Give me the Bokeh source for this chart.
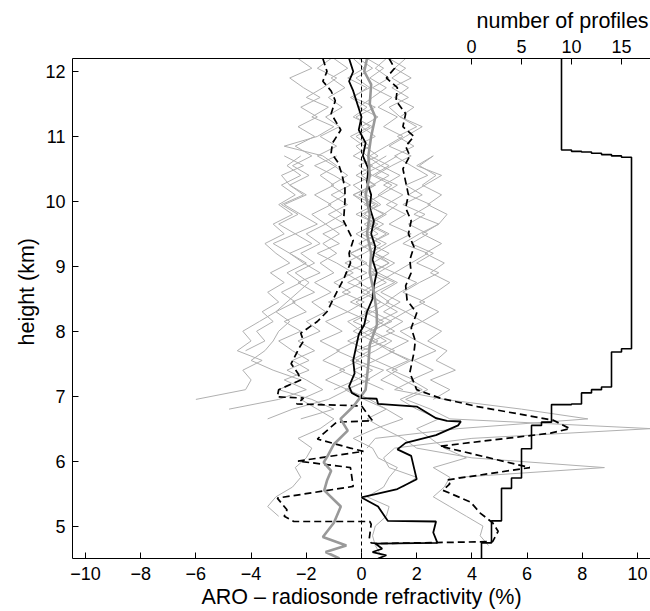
import numpy as np
from bokeh.plotting import figure
from bokeh.models import Range1d, LinearAxis, FixedTicker, Span, Title
from bokeh.embed import file_html
from bokeh.resources import INLINE

# ---------------- data ----------------
# sampling heights (km) of the individual profiles
grid_heights = [4.55, 4.70, 4.85, 5.00, 5.15, 5.30, 5.45, 5.60, 5.75, 5.90,
                6.05, 6.20, 6.35, 6.50, 6.65, 6.80, 6.95, 7.10, 7.25, 7.40,
                7.55, 7.70, 7.85, 8.00, 8.15, 8.30, 8.45, 8.60, 8.75, 8.90,
                9.05, 9.20, 9.35, 9.50, 9.65, 9.80, 9.95, 10.10, 10.25, 10.40,
                10.55, 10.70, 10.85, 11.00, 11.15, 11.30, 11.45, 11.60, 11.75, 11.90,
                12.05, 12.20]

# individual ARO - radiosonde differences (%), each starting at grid index *_start
prof_a_start = 0
prof_a = [0.7, 0.5, 0.4, 0.5, 0.9, 1.0, 0.2, 0.8, 1.0, 1.3, 0.6, 0.4, -0.3, 0.5, 1.5, 0.9, 0.3, -0.5,
          0.2, 0.8, -0.2, 0.5, 1.1, 0.4, 1.0, 1.6, 0.9, 1.4, 2.0, 1.2, 1.8, 2.4, 1.5, 2.1, 2.8, 1.9,
          2.5, 1.7, 2.3, 2.9, 2.0, 2.6]
prof_b_start = 1
prof_b = [4.6, 4.3, 4.4, 3.8, 3.2, 2.6, 3.0, 3.2, 2.6, 3.8, 3.0, 2.5, 2.0, 2.8, 2.0, 1.4, 2.2, 1.5,
          0.9, 1.7, 1.0, 0.4, 1.2, 0.6, 1.3, 0.7, 0.2, 0.9, 0.3, 1.0, 0.5, -0.1, 0.6, 0.1, 0.8, 0.2,
          -0.3, 0.5, 0.0, 0.7, 0.2, -0.2, 0.5, 0.0, 0.6, -0.1, 0.4, 0.9, 0.3, 0.8, 0.2]
prof_c_start = 4
prof_c = [-3.0, -3.4, -3.1, -2.5, -2.2, -2.4, -2.0, -1.8, -2.3, -1.5, -1.0, -1.6, -2.2, -1.4, -2.0,
          -2.7, -1.9, -2.5, -3.0, -2.2, -2.8, -2.0, -2.5, -1.7, -2.3, -1.5, -2.1, -2.6, -1.8, -2.4,
          -1.6, -2.2, -2.8, -2.0, -2.6, -2.9, -2.1, -2.8]
prof_d_start = 7
prof_d = [1.5, 2.0, 1.0, 0.8, 1.2, 4.0, 10.5, 3.2, 2.5, 1.6, 2.4, 1.8, 2.6, 1.9, 2.7, 2.0, 1.4, 2.2,
          1.6, 2.3, 1.5, 2.1, 2.8, 2.0, 2.6, 1.8, 2.4, 1.7, 2.3, 1.5, 2.2, 1.6, 2.4, 1.8, 1.2, 1.9,
          1.3, 2.0, 1.4, 1.0, 1.7, 1.1, 1.8, 1.2, 1.6]
prof_e_start = 8
prof_e = [3.5, 8.8, 4.0, 2.0, 1.5, 0.8, 0.2, 0.9, 0.1, -0.6, 0.3, -0.3, 0.5, -0.2, 0.6, 0.0, -0.5,
          0.3, -0.2, 0.5, -0.1, 0.6, 0.1, -0.4, 0.4, -0.2, 0.5, 0.0, 0.7, 0.2, -0.3, 0.4, -0.1, 0.6,
          0.1, -0.4, 0.3, -0.2, 0.5, -0.3, 0.2, -0.5, 0.1, -0.3]
prof_f_start = 11
prof_f = [0.2, 0.5, 3.5, 8.2, 5.8, 3.0, 1.2, 1.9, 1.1, 1.8, 1.0, 1.7, 0.9, 1.5, 0.8, 1.4, 0.7, 1.3,
          0.6, 1.2, 0.5, 1.1, 1.8, 1.0, 1.6, 0.9, 1.5, 0.8, 1.4, 0.7, 1.3]
prof_g_start = 14
prof_g = [-2.2, -1.0, -1.8, -3.0, -2.2, -3.2, -4.0, -3.5, -3.2, -3.0, -2.6, -3.1, -2.4, -2.9, -2.2,
          -2.7, -2.0, -2.6, -3.2, -2.4, -3.0, -2.3, -2.9, -2.1, -2.6, -1.9, -2.5, -1.8, -2.4, -1.7,
          -2.3, -1.6, -2.2, -1.5, -2.1, -2.6, -1.8, -2.3]
prof_h_start = 14
prof_h = [-3.4, -2.5, -1.2, -0.5, -1.3, -0.6, -1.4, -0.8, -1.5, -0.7, -1.3, -0.5, -1.2, -0.4, -1.0,
          -0.3, -0.9, -1.6, -0.8, -1.4, -0.6, -1.2, -0.5, -1.1, -0.4, -1.0, -1.7, -0.9]
prof_i_start = 15
prof_i = [-4.8, -3.0, -2.0, -2.8, -1.9, -2.5, -1.7, -2.3, -1.5, -2.0, -1.3, -1.8, -1.1, -1.7, -1.0,
          -1.5, -0.9, -1.4, -0.8, -1.3, -0.7, -1.2, -0.6, -1.1, -0.5, -1.0, -1.6, -0.9, -1.5, -0.8,
          -1.3, -0.7, -1.2, -0.6, -1.1, -0.5, -1.0]
prof_j_start = 16
prof_j = [-6.0, -4.2, -4.0, -4.3, -3.6, -4.5, -4.0, -4.3, -3.7, -3.1, -2.7, -2.3, -1.9, -2.4, -1.7,
          -2.2, -1.5, -2.0, -1.3, -1.8, -1.1, -1.7, -1.0, -1.5, -0.9, -1.4, -2.8, -1.6, -1.0, -1.8,
          -1.2, -2.0, -1.4, -0.9, -1.6, -1.1]
prof_k_start = 16
prof_k = [2.6, 3.2, 2.5, 3.4, 2.7, 3.1, 2.4, 2.9, 2.2, 2.8, 2.1, 2.7, 3.2, 2.5, 3.0, 2.3, 2.9, 2.2,
          2.8, 3.1, 2.4, 2.9, 2.2, 2.7, 2.1, 2.6]
prof_l_start = 17
prof_l = [-1.0, -0.2, 0.4, -0.4, 0.3, -0.5, 0.2, 0.8, 0.1, 0.7, 0.0, 0.6, 1.2, 0.4, 1.0, 0.3, 0.9,
          0.2, 0.8, 1.3, 0.6, 1.1, 0.4, 1.0, 0.3, 0.9, 1.5, 0.8, 1.3, 0.6, 1.1, 0.4, 1.0, 0.5, 0.9]
prof_m_start = 17
prof_m = [0.8, 0.0, -0.8, -0.1, -0.9, -0.2, 0.5, -0.3, 0.4, -0.4, 0.3, -0.5, 0.2, -0.6, 0.1, 0.7,
          0.0, 0.6, -0.2, 0.5, -0.3, 0.4, 1.0, 0.3, 0.9]
prof_n_start = 17
prof_n = [1.5, 0.7, 1.3, 0.5, 1.2, 0.4, -0.3, 0.3, -0.5, 0.1, -0.7, 0.0, -0.6, 0.2, -0.4, 0.3, 1.0,
          0.3, 0.9, 0.1, 0.7, 1.3, 0.5, 1.1, 1.8, 1.0, 1.6, 2.2, 1.4, 1.9, 1.2, 1.7, 1.1, 1.6, 1.0]
prof_o_start = 21
prof_o = [-4.2, -3.5, -3.8, -3.2, -3.6, -3.0, -3.4, -2.8, -3.3, -2.6, -3.1, -3.5, -2.8, -3.2, -2.5,
          -3.0, -2.4, -2.9, -2.2, -2.7, -2.2]
prof_p_start = 21
prof_p = [0.0, 0.9, 0.3, 1.1, 0.4, 1.0, 0.5, 1.2, 0.4, 1.0, 0.3, 0.9, 0.2, 0.8, 0.1, 0.6, -0.1, 0.5,
          -0.2, 0.4, -0.3, 0.3, -0.2, 0.4, -0.3, 0.2, -0.4, 0.3, -0.2, 0.4, -0.1]

profiles = [(prof_a_start, prof_a), (prof_b_start, prof_b), (prof_c_start, prof_c),
            (prof_d_start, prof_d), (prof_e_start, prof_e), (prof_f_start, prof_f),
            (prof_g_start, prof_g), (prof_h_start, prof_h), (prof_i_start, prof_i),
            (prof_j_start, prof_j), (prof_k_start, prof_k), (prof_l_start, prof_l),
            (prof_m_start, prof_m), (prof_n_start, prof_n), (prof_o_start, prof_o),
            (prof_p_start, prof_p)]

# mean difference (solid black)
mean_x = [-0.45, -0.3, -0.45, -0.3, -0.15, 0.0, -0.1, 0.15, 0.05, 0.25, 0.2, 0.35, 0.3, 0.45, 0.35,
          0.5, 0.4, 0.55, 0.45, 0.4, 0.2, 0.1, -0.1, -0.2, -0.3, -0.25, -0.45, -0.35, 0.0, 0.55, 0.6,
          2.0, 2.7, 3.1, 3.6, 3.5, 2.7, 1.6, 1.3, 1.8, 1.9, 2.0, 1.3, 0.0, 0.6, 0.95, 2.7, 2.6, 2.75,
          0.5, 0.75, 0.4, 0.9, 0.6]
mean_h = [12.2, 12.0, 11.85, 11.7, 11.5, 11.3, 11.1, 10.9, 10.7, 10.5, 10.3, 10.1, 9.9, 9.7, 9.5,
          9.3, 9.1, 8.9, 8.7, 8.5, 8.3, 8.1, 7.95, 7.75, 7.55, 7.35, 7.15, 7.05, 6.97, 6.96, 6.88,
          6.84, 6.66, 6.62, 6.61, 6.55, 6.40, 6.28, 6.18, 6.08, 5.9, 5.72, 5.57, 5.44, 5.30, 5.08,
          5.07, 4.9, 4.74, 4.73, 4.65, 4.6, 4.55, 4.5]

# mean - std (dashed)
lo_x = [-1.4, -1.25, -1.4, -1.1, -0.95, -1.1, -0.75, -1.05, -1.1, -0.85, -0.7, -0.6, -0.6, -0.65,
        -0.3, -0.45, -0.4, -0.65, -0.9, -1.25, -1.6, -2.2, -2.1, -2.25, -2.55, -2.3, -2.2, -3.0,
        -3.05, -2.1, -2.35, 0.0, 0.4, -0.9, -1.6, -0.4, 0.07, -2.3, -0.4, -0.3, -3.05, -2.7, -2.8,
        -2.45, 0.3, 0.35, 0.28, 0.35, 0.6]
lo_h = [12.2, 12.0, 11.85, 11.7, 11.55, 11.35, 11.1, 10.9, 10.75, 10.6, 10.4, 10.2, 10.0, 9.7,
        9.4, 9.2, 9.05, 8.8, 8.6, 8.3, 8.15, 7.97, 7.85, 7.75, 7.5, 7.35, 7.25, 7.1, 6.99, 6.97,
        6.88, 6.85, 6.62, 6.60, 6.34, 6.2, 6.15, 6.0, 5.9, 5.61, 5.43, 5.25, 5.15, 5.07, 5.07, 5.03,
        4.8, 4.74, 4.73]

# mean + std (dashed)
hi_x = [1.0, 1.2, 0.9, 1.3, 1.25, 1.6, 1.5, 1.9, 1.6, 1.75, 1.5, 1.6, 1.7, 1.6, 1.8, 1.7, 1.9, 1.75,
        1.8, 1.6, 1.65, 2.0, 1.8, 1.95, 1.9, 1.75, 2.0, 2.85, 4.2, 6.95, 7.55, 6.85, 2.85, 6.1, 3.1,
        3.2, 2.95, 3.95, 4.3, 4.75, 4.95, 4.75, 0.6]
hi_h = [12.2, 12.05, 11.9, 11.75, 11.55, 11.35, 11.15, 11.0, 10.85, 10.7, 10.5, 10.3, 10.1, 9.9,
        9.7, 9.5, 9.3, 9.1, 8.9, 8.7, 8.48, 8.28, 8.05, 7.85, 7.67, 7.36, 7.1, 6.97, 6.84, 6.63,
        6.5, 6.43, 6.23, 5.9, 5.71, 5.65, 5.55, 5.37, 5.2, 5.05, 4.92, 4.76, 4.73]

# median difference (thick gray)
med_x = [0.2, 0.1, 0.35, 0.3, 0.5, 0.35, 0.25, 0.3, 0.15, 0.3, 0.2, 0.35, 0.3, 0.45, 0.55, 0.56,
         0.3, 0.25, 0.15, -0.1, -0.3, -0.76, -0.5, -1.0, -1.24, -1.37, -1.1, -1.25, -1.35, -0.75,
         -1.0, -1.4, -0.55, -1.3, -0.8]
med_h = [12.2, 12.0, 11.8, 11.5, 11.3, 11.0, 10.7, 10.4, 10.1, 9.8, 9.5, 9.2, 8.9, 8.6, 8.3, 8.1,
         7.8, 7.5, 7.1, 6.95, 6.84, 6.65, 6.47, 6.26, 6.07, 5.98, 5.85, 5.7, 5.55, 5.3, 5.05, 4.83,
         4.7, 4.6, 4.5]

# number of profiles (top axis): boundaries (km) and counts between them
n_bounds = [4.50, 4.74, 5.08, 5.58, 5.74, 6.19, 6.55, 6.60, 6.87, 6.88, 7.05, 7.10, 7.14, 7.68,
            7.73, 10.68, 10.70, 10.72, 10.74, 10.76, 10.77, 10.79, 12.20]
n_counts = [1, 2, 3, 4, 5, 6, 7, 8, 10, 11, 12, 13, 14, 15, 16, 15, 14, 13, 12, 11, 10, 9]

x_ticks = [-10, -8, -6, -4, -2, 0, 2, 4, 6, 8, 10]
y_ticks = [5, 6, 7, 8, 9, 10, 11, 12]
n_ticks = [0, 5, 10, 15]

# ---------------- figure ----------------
FONT = "Liberation Sans"
p = figure(width=650, height=611, output_backend="svg", toolbar_location=None,
           x_range=Range1d(-10.47, 10.47), y_range=Range1d(4.5, 12.2),
           min_border_left=72, min_border_right=0, min_border_top=58, min_border_bottom=52)
p.outline_line_color = None
p.xgrid.visible = False
p.ygrid.visible = False
p.background_fill_color = "white"
p.border_fill_color = "white"

p.extra_x_ranges = {"n": Range1d(-39.9, 17.9)}

def style_axis(ax):
    ax.major_tick_in = 6
    ax.major_tick_out = 0
    ax.minor_tick_line_color = None
    ax.axis_line_color = "black"
    ax.major_tick_line_color = "black"
    ax.major_label_text_font = FONT
    ax.major_label_text_font_size = "18px"
    ax.major_label_text_color = "black"
    ax.axis_label_text_font = FONT
    ax.axis_label_text_font_size = "21.5px"
    ax.axis_label_text_font_style = "normal"
    ax.axis_label_text_color = "black"

p.xaxis.ticker = FixedTicker(ticks=x_ticks)
p.xaxis.major_label_overrides = {t: ("\u2212%d" % -t if t < 0 else str(t)) for t in x_ticks}
p.xaxis.axis_label = "ARO \u2013 radiosonde refractivity (%)"
p.xaxis.major_label_standoff = 8
p.xaxis.axis_label_standoff = 2
p.yaxis.ticker = FixedTicker(ticks=y_ticks)
p.yaxis.major_label_standoff = 7
style_axis(p.xaxis[0])
style_axis(p.yaxis[0])

top_axis = LinearAxis(x_range_name="n", ticker=FixedTicker(ticks=n_ticks))
style_axis(top_axis)
top_axis.major_label_standoff = 6
p.add_layout(top_axis, "above")

# top-axis title, placed above the profile-count scale
p.title.text = "number of profiles"
p.title.align = "left"
p.title.offset = 404
p.title.standoff = 8
p.title.text_font = FONT
p.title.text_font_size = "21.5px"
p.title.text_font_style = "normal"
p.title.text_color = "black"

# y-axis title
p.add_layout(Title(text="height (km)", align="left", offset=213, standoff=8, text_font=FONT,
                   text_font_size="21.5px", text_font_style="normal", text_color="black"), "left")

# individual profiles
xs, ys = [], []
for start, vals in profiles:
    xs.append(vals)
    ys.append(grid_heights[start:start + len(vals)])
p.multi_line(xs, ys, line_color="#b0b0b0", line_width=1)

# zero line
p.add_layout(Span(location=0, dimension="height", line_color="black", line_width=1,
                  line_dash="4 3"))

# mean +- std
p.line(lo_x, lo_h, line_color="black", line_width=1.7, line_dash="7 4")
p.line(hi_x, hi_h, line_color="black", line_width=1.7, line_dash="7 4")
# mean
p.line(mean_x, mean_h, line_color="black", line_width=1.8)
# median
p.line(med_x, med_h, line_color="#999999", line_width=2.6)

# number of profiles step line
step_x, step_y = [], []
for k, c in enumerate(n_counts):
    step_x += [c, c]
    step_y += [n_bounds[k], n_bounds[k + 1]]
p.line(step_x, step_y, line_color="black", line_width=1.6, x_range_name="n")

open("out.html", "w").write(file_html(p, INLINE))
